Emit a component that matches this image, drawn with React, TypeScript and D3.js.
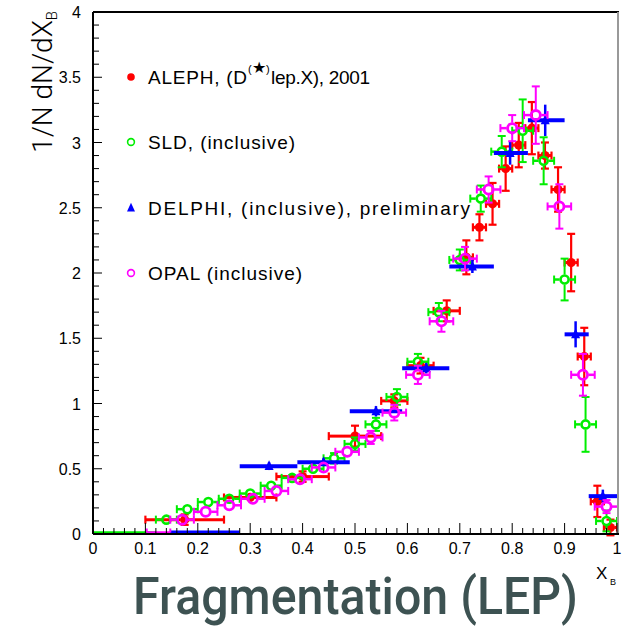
import React from "react";
import * as d3 from "d3";

// ---------- data ----------
const xTickValues = [0, 0.1, 0.2, 0.3, 0.4, 0.5, 0.6, 0.7, 0.8, 0.9, 1];
const xTickLabels = ["0", "0.1", "0.2", "0.3", "0.4", "0.5", "0.6", "0.7", "0.8", "0.9", "1"];
const yTickValues = [0, 0.5, 1, 1.5, 2, 2.5, 3, 3.5, 4];
const yTickLabels = ["0", "0.5", "1", "1.5", "2", "2.5", "3", "3.5", "4"];

// ALEPH (D* lep X)
const alephX = [0.175, 0.3, 0.4, 0.5, 0.575, 0.625, 0.675, 0.7125, 0.7375, 0.7625, 0.7875, 0.8125, 0.8375, 0.8625, 0.8875, 0.9125, 0.9375, 0.9625, 0.9875];
const alephXErr = [0.075, 0.05, 0.05, 0.05, 0.025, 0.025, 0.025, 0.0125, 0.0125, 0.0125, 0.0125, 0.0125, 0.0125, 0.0125, 0.0125, 0.0125, 0.0125, 0.0125, 0.0125];
const alephY = [0.11, 0.28, 0.44, 0.75, 1.02, 1.29, 1.71, 2.12, 2.35, 2.53, 2.8, 2.98, 3.11, 2.9, 2.64, 2.08, 1.36, 0.25, 0.05];
const alephYErr = [0.04, 0.03, 0.04, 0.08, 0.05, 0.06, 0.08, 0.13, 0.1, 0.16, 0.17, 0.17, 0.2, 0.1, 0.17, 0.22, 0.22, 0.12, 0.06];

// SLD (inclusive)
const sldX = [0.06, 0.14, 0.18, 0.22, 0.26, 0.3, 0.34, 0.38, 0.42, 0.46, 0.5, 0.54, 0.58, 0.62, 0.66, 0.7, 0.74, 0.78, 0.82, 0.86, 0.9, 0.94, 0.98];
const sldXErr = [0.06, 0.02, 0.02, 0.02, 0.02, 0.02, 0.02, 0.02, 0.02, 0.02, 0.02, 0.02, 0.02, 0.02, 0.02, 0.02, 0.02, 0.02, 0.02, 0.02, 0.02, 0.02, 0.02];
const sldY = [0, 0.11, 0.19, 0.245, 0.27, 0.31, 0.37, 0.43, 0.5, 0.58, 0.69, 0.84, 1.05, 1.32, 1.7, 2.1, 2.57, 2.93, 3.09, 2.86, 1.95, 0.84, 0.1];
const sldYErr = [0, 0.02, 0.02, 0.02, 0.02, 0.03, 0.03, 0.03, 0.03, 0.04, 0.05, 0.05, 0.06, 0.06, 0.07, 0.08, 0.1, 0.12, 0.24, 0.18, 0.16, 0.21, 0.08];

// DELPHI (inclusive), preliminary
const delphiX = [0.19, 0.336, 0.44, 0.54, 0.636, 0.724, 0.796, 0.863, 0.921, 0.973];
const delphiXLo = [0.147, 0.28, 0.39, 0.49, 0.59, 0.68, 0.765, 0.83, 0.9, 0.946];
const delphiXHi = [0.28, 0.39, 0.49, 0.59, 0.68, 0.765, 0.83, 0.9, 0.946, 1.0];
const delphiY = [0, 0.52, 0.55, 0.94, 1.27, 2.05, 2.92, 3.17, 1.53, 0.29];
const delphiYErr = [0.02, 0.03, 0.03, 0.04, 0.04, 0.05, 0.09, 0.12, 0.1, 0.05];

// OPAL (inclusive)
const opalX = [0.125, 0.17, 0.215, 0.26, 0.305, 0.35, 0.395, 0.44, 0.485, 0.53, 0.575, 0.62, 0.665, 0.71, 0.755, 0.8, 0.845, 0.89, 0.935, 0.98];
const opalXErr = [0.0225, 0.0225, 0.0225, 0.0225, 0.0225, 0.0225, 0.0225, 0.0225, 0.0225, 0.0225, 0.0225, 0.0225, 0.0225, 0.0225, 0.0225, 0.0225, 0.0225, 0.0225, 0.0225, 0.0225];
const opalY = [0, 0.11, 0.17, 0.22, 0.27, 0.33, 0.42, 0.51, 0.63, 0.74, 0.93, 1.22, 1.63, 2.11, 2.64, 3.11, 3.21, 2.51, 1.22, 0.21];
const opalYErr = [0, 0.02, 0.02, 0.02, 0.03, 0.03, 0.03, 0.04, 0.04, 0.05, 0.06, 0.07, 0.08, 0.09, 0.1, 0.1, 0.22, 0.17, 0.16, 0.05];

const legendLabels = ["ALEPH, (D", "SLD, (inclusive)", "DELPHI, (inclusive), preliminary", "OPAL (inclusive)"];
const alephLabelTail = "lep.X), 2001";
const titleText = "Fragmentation (LEP)";

// ---------- layout ----------
const W = 624;
const H = 628;
const X0 = 93, X1 = 617, Y0 = 534, Y1 = 12;
const RED = "#ff0000";
const GREEN = "#00ee00";
const BLUE = "#0000ff";
const MAGENTA = "#ff00ff";
const FONT = "'Liberation Sans', Arial, Helvetica, sans-serif";

const xs = d3.scaleLinear().domain([0, 1]).range([X0, X1]);
const ys = d3.scaleLinear().domain([0, 4]).range([Y0, Y1]);

type EB = {
  cx: number; cy: number; xl: number; xr: number; yt: number; yb: number;
  r: number; color: string; sw: number; cap: number; hsw?: number; vcap?: number;
};

function ErrorBars({ cx, cy, xl, xr, yt, yb, r, color, sw, cap, hsw, vcap }: EB) {
  const els: React.ReactNode[] = [];
  const hw = hsw ?? sw;
  const vc = vcap ?? cap;
  if (xl < cx - r) {
    els.push(<line key="l" x1={xl} x2={cx - r} y1={cy} y2={cy} stroke={color} strokeWidth={hw} />);
    if (cap > 0) els.push(<line key="lc" x1={xl} x2={xl} y1={cy - cap} y2={cy + cap} stroke={color} strokeWidth={sw} />);
  }
  if (xr > cx + r) {
    els.push(<line key="r" x1={cx + r} x2={xr} y1={cy} y2={cy} stroke={color} strokeWidth={hw} />);
    if (cap > 0) els.push(<line key="rc" x1={xr} x2={xr} y1={cy - cap} y2={cy + cap} stroke={color} strokeWidth={sw} />);
  }
  if (yt < cy - r) {
    els.push(<line key="t" x1={cx} x2={cx} y1={cy - r} y2={yt} stroke={color} strokeWidth={sw} />);
    if (vc > 0) els.push(<line key="tc" x1={cx - vc} x2={cx + vc} y1={yt} y2={yt} stroke={color} strokeWidth={sw} />);
  }
  if (yb > cy + r) {
    els.push(<line key="b" x1={cx} x2={cx} y1={cy + r} y2={yb} stroke={color} strokeWidth={sw} />);
    if (vc > 0) els.push(<line key="bc" x1={cx - vc} x2={cx + vc} y1={yb} y2={yb} stroke={color} strokeWidth={sw} />);
  }
  return <g>{els}</g>;
}

function triPath(cx: number, cy: number, s: number) {
  const h = s * 1.1;
  return `M${cx},${cy - h * 0.6}L${cx + s / 2},${cy + h * 0.4}L${cx - s / 2},${cy + h * 0.4}Z`;
}

export default function App() {
  const xMinor = d3.range(0, 1.0001, 0.02);
  const yMinor = d3.range(0, 4.0001, 0.1);
  const zeroY = ys(0) - 1.5;

  const aleph = alephX.map((x, i) => {
    const cx = xs(x), cy = alephY[i] === 0 ? zeroY : ys(alephY[i]);
    return (
      <g key={"a" + i}>
        <ErrorBars cx={cx} cy={cy} xl={xs(x - alephXErr[i])} xr={xs(x + alephXErr[i])}
          yt={ys(alephY[i] + alephYErr[i])} yb={ys(alephY[i] - alephYErr[i])}
          r={4} color={RED} sw={2.2} cap={4} hsw={3} />
        <circle cx={cx} cy={cy} r={4.6} fill={RED} />
      </g>
    );
  });

  const sld = sldX.map((x, i) => {
    const zero = sldY[i] === 0;
    const cx = xs(x), cy = zero ? zeroY : ys(sldY[i]);
    if (zero) {
      return <line key={"s" + i} x1={xs(x - sldXErr[i])} x2={xs(x + sldXErr[i])} y1={cy} y2={cy} stroke={GREEN} strokeWidth={2.5} />;
    }
    return (
      <g key={"s" + i}>
        <ErrorBars cx={cx} cy={cy} xl={xs(x - sldXErr[i])} xr={xs(x + sldXErr[i])}
          yt={ys(sldY[i] + sldYErr[i])} yb={ys(sldY[i] - sldYErr[i])}
          r={5} color={GREEN} sw={2} cap={4} hsw={2.5} />
        <circle cx={cx} cy={cy} r={4} fill="none" stroke={GREEN} strokeWidth={2.6} />
      </g>
    );
  });

  const delphi = delphiX.map((x, i) => {
    const zero = delphiY[i] === 0;
    const cx = xs(x), cy = zero ? zeroY : ys(delphiY[i]);
    return (
      <g key={"d" + i}>
        <line x1={xs(delphiXLo[i])} x2={xs(delphiXHi[i])} y1={cy} y2={cy} stroke={BLUE} strokeWidth={4} />
        <line x1={cx} x2={cx} y1={ys(delphiY[i] + delphiYErr[i])} y2={zero ? cy : ys(delphiY[i] - delphiYErr[i])} stroke={BLUE} strokeWidth={2.5} />
        {!zero && <path d={triPath(cx, cy, 9)} fill={BLUE} />}
      </g>
    );
  });

  const opal = opalX.map((x, i) => {
    const zero = opalY[i] === 0;
    const cx = xs(x), cy = zero ? zeroY : ys(opalY[i]);
    if (zero) {
      const xl = xs(x - opalXErr[i]), xr = xs(x + opalXErr[i]);
      return (
        <g key={"o" + i}>
          <line x1={xl} x2={xr} y1={cy} y2={cy} stroke={MAGENTA} strokeWidth={2.5} />
          <line x1={xl} x2={xl} y1={cy - 4} y2={cy} stroke={MAGENTA} strokeWidth={2} />
          <line x1={xr} x2={xr} y1={cy - 4} y2={cy} stroke={MAGENTA} strokeWidth={2} />
        </g>
      );
    }
    return (
      <g key={"o" + i}>
        <ErrorBars cx={cx} cy={cy} xl={xs(x - opalXErr[i])} xr={xs(x + opalXErr[i])}
          yt={ys(opalY[i] + opalYErr[i])} yb={ys(opalY[i] - opalYErr[i])}
          r={5.5} color={MAGENTA} sw={2} cap={4} hsw={2.5} />
        <circle cx={cx} cy={cy} r={4.6} fill="none" stroke={MAGENTA} strokeWidth={2.8} />
      </g>
    );
  });

  const legendRows = [77, 142, 208, 273];
  const legendLengths = [99, 147, 322, 154];

  return (
    <svg width={W} height={H} viewBox={`0 0 ${W} ${H}`}
      style={{ position: "absolute", left: 0, top: 0, background: "#fff" }}
      fontFamily={FONT}>
      <rect x={0} y={0} width={W} height={H} fill="#fff" />
      <defs>
        <clipPath id="plotclip">
          <rect x={X0} y={Y1} width={X1 - X0} height={Y0 - Y1 + 4} />
        </clipPath>
      </defs>

      {/* data */}
      <g clipPath="url(#plotclip)">
        {aleph}
        {sld}
        {delphi}
        {opal}
      </g>

      {/* frame */}
      <line x1={X0} x2={X1 + 2} y1={Y1} y2={Y1} stroke="#000" strokeWidth={2} />
      <line x1={X1 + 1} x2={X1 + 1} y1={Y1} y2={Y0} stroke="#999" strokeWidth={2} />
      <line x1={X0} x2={X1 + 2} y1={Y0} y2={Y0} stroke="#000" strokeWidth={2} />
      <line x1={X0} x2={X0} y1={Y1} y2={Y0} stroke="#000" strokeWidth={2} />

      {/* x ticks */}
      {xMinor.map((v, i) => {
        const major = i % 5 === 0;
        return <line key={"xm" + i} x1={xs(v)} x2={xs(v)} y1={Y0} y2={Y0 - (major ? 11 : 6)} stroke="#000" strokeWidth={1} />;
      })}
      {xTickValues.map((v, i) => (
        <text key={"xl" + i} x={xs(v)} y={554} fontSize={16} textAnchor="middle" fill="#000">{xTickLabels[i]}</text>
      ))}

      {/* y ticks */}
      {yMinor.map((v, i) => {
        const major = i % 5 === 0;
        return <line key={"ym" + i} x1={X0} x2={X0 + (major ? 9 : 6)} y1={ys(v)} y2={ys(v)} stroke="#000" strokeWidth={1} />;
      })}
      {yTickValues.map((v, i) => (
        <text key={"yl" + i} x={81} y={ys(v) + 6} fontSize={16} textAnchor="end" fill="#000">{yTickLabels[i]}</text>
      ))}

      {/* axis titles */}
      <text transform="translate(52,11) rotate(-90)" textAnchor="end" fontSize={28} fill="#000"
        fontFamily="Roboto, 'Liberation Sans', sans-serif" fontWeight={300}>
        1/N dN/dX<tspan fontSize={15} dy={5}>B</tspan>
      </text>
      <text x={596} y={579} fontSize={17} fill="#000">X</text>
      <text x={610} y={585} fontSize={9} fill="#000">B</text>

      {/* legend */}
      <circle cx={131} cy={legendRows[0]} r={3.8} fill={RED} />
      <circle cx={131} cy={legendRows[1]} r={3.4} fill="none" stroke={GREEN} strokeWidth={1.6} />
      <path d={triPath(131, legendRows[2], 8)} fill={BLUE} />
      <circle cx={131} cy={legendRows[3]} r={3.4} fill="none" stroke={MAGENTA} strokeWidth={1.6} />

      <text x={148} y={legendRows[0] + 7} fontSize={19} fill="#000" textLength={legendLengths[0]} lengthAdjust="spacing">{legendLabels[0]}</text>
      <text x={248} y={legendRows[0] - 4} fontSize={11} fill="#000">(</text>
      <text x={252} y={legendRows[0] - 4} fontSize={16} fill="#000" fontFamily="'DejaVu Sans', sans-serif">★</text>
      <text x={266} y={legendRows[0] - 4} fontSize={11} fill="#000">)</text>
      <text x={271} y={legendRows[0] + 7} fontSize={19} fill="#000" textLength={99} lengthAdjust="spacing">{alephLabelTail}</text>
      {[1, 2, 3].map((k) => (
        <text key={"lg" + k} x={148} y={legendRows[k] + 7} fontSize={19} fill="#000" textLength={legendLengths[k]} lengthAdjust="spacing">{legendLabels[k]}</text>
      ))}

      {/* big title */}
      <text transform="translate(133,614) scale(1,1.1)" x={0} y={0} fontSize={47} fontFamily="Roboto, 'Open Sans', sans-serif" fontWeight={500} fill="#3d5252"
        textLength={445} lengthAdjust="spacingAndGlyphs">{titleText}</text>
    </svg>
  );
}
